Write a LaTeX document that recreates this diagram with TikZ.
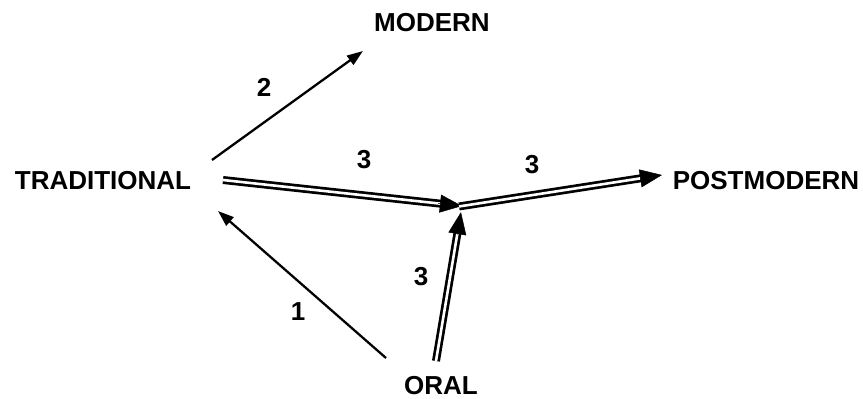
\documentclass[tikz,border=0pt]{standalone}
\usepackage{fontspec}
\setmainfont{Liberation Sans}
\usetikzlibrary{arrows.meta}
\begin{document}
\begin{tikzpicture}[x=1pt,y=-1pt,
  lbl/.style={font=\bfseries\fontsize{26}{26}\selectfont, inner sep=0pt},
  num/.style={font=\bfseries\fontsize{26}{26}\selectfont, inner sep=0pt},
  thinarrow/.style={line width=2.3pt, -{Triangle[length=16pt,width=11pt]}},
  dbl/.style={line width=2.7pt, double=white, double distance=2.6pt},
  bigtip/.style={line width=0.5pt, -{Triangle[length=22pt,width=18pt]}}
]
\useasboundingbox[fill=white] (0,0) rectangle (863,399);
% labels
\node[lbl] (trad) at (103,181) {TRADITIONAL};
\node[lbl] (post) at (766,181) {POSTMODERN};
\node[lbl] (mod) at (432,22.5) {MODERN};
\node[lbl] (oral) at (441,385.5) {ORAL};
% connector end points
\coordinate (j) at (462,206);
\coordinate (ta) at (223,180);
\coordinate (tb) at (212,160);
\coordinate (tc) at (218,211);
\coordinate (me) at (363,51);
\coordinate (oa) at (386,358);
\coordinate (ob) at (436,361);
\coordinate (pe) at (662,175);
% thin arrows
\draw[thinarrow] (tb) -- (me);
\draw[thinarrow] (oa) -- (tc);
% double arrows
\path (ta) -- (j) coordinate[pos=0.9] (tj);
\draw[dbl, shorten >=15pt] (ta) -- (j);
\draw[bigtip] (tj) -- (j);
\path (ob) -- (j) coordinate[pos=0.96] (oj2);
\draw[dbl, shorten >=21pt] (ob) -- (j);
\path (ob) -- (oj2) coordinate[pos=0.85] (oj1);
\draw[bigtip] (oj1) -- (oj2);
\path (j) -- (pe) coordinate[pos=0.9] (pj);
\draw[dbl, shorten >=15pt, shorten <=-3pt] (j) -- (pe);
\draw[bigtip] (pj) -- (pe);
% numbers
\node[num] (n2) at (264,87) {2};
\node[num] (n3a) at (364,160) {3};
\node[num] (n3b) at (532,165) {3};
\node[num] (n1) at (298,312) {1};
\node[num] (n3c) at (421,277) {3};
\end{tikzpicture}
\end{document}
